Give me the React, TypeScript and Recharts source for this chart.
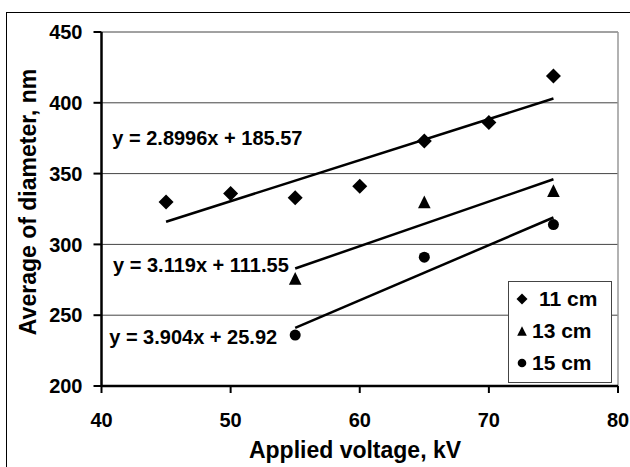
import React from "react";
import {
  ComposedChart, Scatter, XAxis, YAxis, CartesianGrid, ReferenceLine, ReferenceDot, Label,
} from "recharts";

const FONT = "'Liberation Sans', Arial, sans-serif";

// measured points (x = applied voltage kV, y = avg diameter nm)
const voltage11 = [45, 50, 55, 60, 65, 70, 75];
const diameter11 = [330, 336, 333, 341, 373, 386, 419];
const voltage13 = [55, 65, 75];
const diameter13 = [276, 330, 338];
const voltage15 = [55, 65, 75];
const diameter15 = [236, 291, 314];

// trendline end points as drawn
const trend11 = [{ x: 45, y: 316 }, { x: 75, y: 403 }];
const trend13 = [{ x: 55, y: 283 }, { x: 75, y: 346 }];
const trend15 = [{ x: 55, y: 241 }, { x: 75, y: 319 }];

const equations = [
  { text: "y = 2.8996x + 185.57", x: 48.2, y: 375 },
  { text: "y = 3.119x + 111.55", x: 47.7, y: 285.5 },
  { text: "y = 3.904x + 25.92", x: 47.1, y: 235 },
];

const seriesNames = ["11 cm", "13 cm", "15 cm"];
const xTicks = [40, 50, 60, 70, 80];
const yTicks = [200, 250, 300, 350, 400, 450];

const toPoints = (xs: number[], ys: number[]) => xs.map((x, i) => ({ x, y: ys[i] }));

function Diamond({ cx, cy, s = 7.5 }: any) {
  return <polygon points={`${cx},${cy - s} ${cx + s},${cy} ${cx},${cy + s} ${cx - s},${cy}`} fill="#000" />;
}
function Triangle({ cx, cy, s = 6.3 }: any) {
  return <polygon points={`${cx},${cy - s} ${cx + s},${cy + s} ${cx - s},${cy + s}`} fill="#000" />;
}
function Circle({ cx, cy, r = 5.5 }: any) {
  return <circle cx={cx} cy={cy} r={r} fill="#000" />;
}

function LegendBox() {
  const marks = [
    <Diamond cx={8} cy={9} s={5.5} />,
    <Triangle cx={8} cy={9} s={4.8} />,
    <Circle cx={8} cy={9} r={4.3} />,
  ];
  return (
    <div style={{
      position: "absolute", left: 508, top: 281, width: 104, height: 102, boxSizing: "border-box",
      border: "1px solid #444", background: "#fff", paddingTop: 1,
    }}>
      {seriesNames.map((n, i) => (
        <div key={n} style={{ display: "flex", alignItems: "center", height: 32, paddingLeft: 5 }}>
          <svg width={16} height={18}>{marks[i]}</svg>
          <span style={{ fontFamily: FONT, fontWeight: "bold", fontSize: 21, marginLeft: i === 0 ? 9 : 2, color: "#000" }}>{n}</span>
        </div>
      ))}
    </div>
  );
}

export default function App() {
  const tick = { fontSize: 20, fontWeight: "bold", fill: "#000", fontFamily: FONT };
  return (
    <div style={{ position: "fixed", left: 0, top: 0, width: 630, height: 467, background: "#fff", overflow: "hidden" }}>
      <div style={{ position: "absolute", left: 6, top: 12, width: 640, height: 480, border: "1px solid #000" }} />
      <div style={{ position: "absolute", left: 0, top: 0 }}>
        <ComposedChart width={630} height={467} margin={{ top: 32, right: 12, left: 5, bottom: 31 }}>
          <CartesianGrid vertical={false} stroke="#444" strokeWidth={1} />
          <XAxis
            type="number" dataKey="x" domain={[40, 80]} ticks={xTicks} allowDataOverflow
            height={50} tickSize={7} tickMargin={20} tick={tick}
            axisLine={{ stroke: "#000", strokeWidth: 2.5 }} tickLine={{ stroke: "#000", strokeWidth: 2 }}
          >
            <Label
              content={() => (
                <text x={355} y={458} textAnchor="middle" fontFamily={FONT} fontWeight="bold" fontSize={23} fill="#000">
                  Applied voltage, kV
                </text>
              )}
            />
          </XAxis>
          <YAxis
            type="number" dataKey="y" domain={[200, 450]} ticks={yTicks} allowDataOverflow
            width={96.5} tickSize={8} tickMargin={11} tick={tick}
            axisLine={{ stroke: "#000", strokeWidth: 2.5 }} tickLine={{ stroke: "#000", strokeWidth: 2 }}
          >
            <Label
              content={() => (
                <text x={36} y={202} transform="rotate(-90 36 202)" textAnchor="middle" fontFamily={FONT} fontWeight="bold" fontSize={23} fill="#000">
                  Average of diameter, nm
                </text>
              )}
            />
          </YAxis>
          <ReferenceLine x={80} stroke="#999" strokeWidth={1.5} />
          <ReferenceLine segment={trend11} stroke="#000" strokeWidth={2.5} />
          <ReferenceLine segment={trend13} stroke="#000" strokeWidth={2.5} />
          <ReferenceLine segment={trend15} stroke="#000" strokeWidth={2.5} />
          <Scatter name={seriesNames[0]} data={toPoints(voltage11, diameter11)} shape={(p: any) => <Diamond cx={p.cx} cy={p.cy} />} isAnimationActive={false} />
          <Scatter name={seriesNames[1]} data={toPoints(voltage13, diameter13)} shape={(p: any) => <Triangle cx={p.cx} cy={p.cy} />} isAnimationActive={false} />
          <Scatter name={seriesNames[2]} data={toPoints(voltage15, diameter15)} shape={(p: any) => <Circle cx={p.cx} cy={p.cy} />} isAnimationActive={false} />
          {equations.map((e) => (
            <ReferenceDot
              key={e.text} x={e.x} y={e.y} r={1} fill="none" stroke="none"
              label={{ value: e.text, position: "center", fontSize: 20, fontWeight: "bold", fill: "#000", fontFamily: FONT }}
            />
          ))}
        </ComposedChart>
      </div>
      <LegendBox />
    </div>
  );
}
